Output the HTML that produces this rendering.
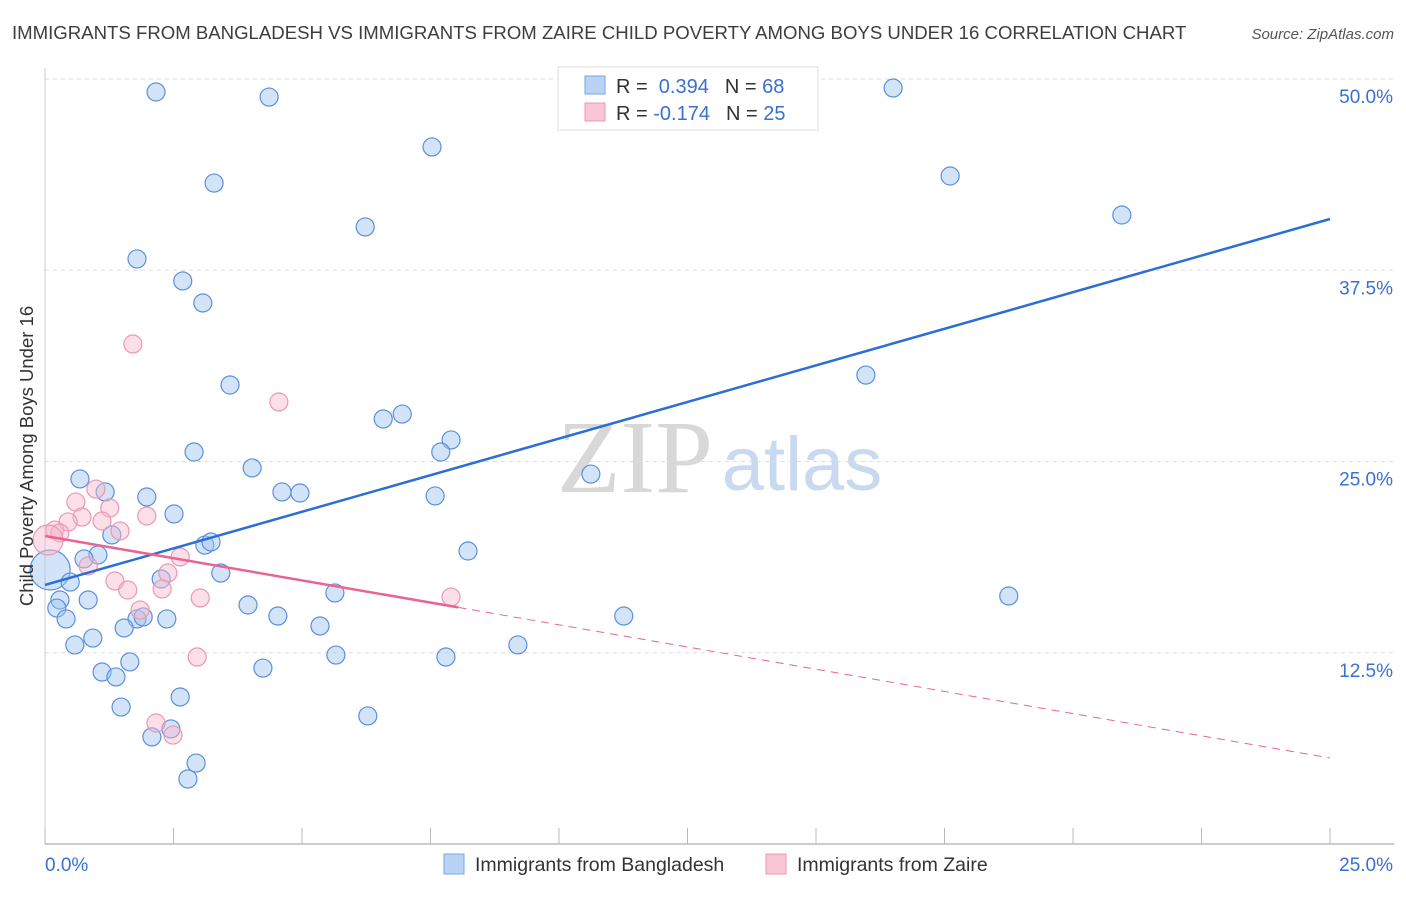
<!DOCTYPE html>
<html><head><meta charset="utf-8"><style>
body{margin:0;background:#fff;font-family:"Liberation Sans",sans-serif;}
</style></head><body>
<svg id="chart" width="1406" height="892" xmlns="http://www.w3.org/2000/svg">
<text x="12" y="39" font-size="18.6" fill="#3d3d3d">IMMIGRANTS FROM BANGLADESH VS IMMIGRANTS FROM ZAIRE CHILD POVERTY AMONG BOYS UNDER 16 CORRELATION CHART</text>
<text x="1394" y="39" font-size="15" fill="#555" font-style="italic" text-anchor="end">Source: ZipAtlas.com</text>
<text x="635" y="492" font-size="104" fill="#d8d8d8" font-family="Liberation Serif,serif" text-anchor="middle">ZIP</text>
<text x="802" y="490" font-size="76" fill="#c9d9ef" text-anchor="middle">atlas</text>
<g id="grid"></g>
<g id="axes"></g>
<g id="marks"></g>
<text transform="translate(33,456) rotate(-90)" font-size="18.5" fill="#333" text-anchor="middle">Child Poverty Among Boys Under 16</text>
<g>
<rect x="558" y="67" width="260" height="63" fill="#fff" stroke="#ddd"/>
<rect x="585" y="76" width="20" height="18" fill="#b9d3f5" stroke="#7aa6e3"/>
<rect x="585" y="103" width="20" height="18" fill="#f9c6d5" stroke="#eb98b1"/>
<text x="616" y="93" font-size="20" fill="#333">R = <tspan fill="#3a70d0">&#160;0.394</tspan><tspan dx="16">N = </tspan><tspan fill="#3a70d0">68</tspan></text>
<text x="616" y="120" font-size="20" fill="#333">R = <tspan fill="#3a70d0">-0.174</tspan><tspan dx="16">N = </tspan><tspan fill="#3a70d0">25</tspan></text>
</g>
<g>
<rect x="444" y="854" width="20" height="20" fill="#b9d3f5" stroke="#7aa6e3"/>
<text x="475" y="871" font-size="19.5" fill="#333">Immigrants from Bangladesh</text>
<rect x="766" y="854" width="20" height="20" fill="#f9c6d5" stroke="#eb98b1"/>
<text x="797" y="871" font-size="19.5" fill="#333">Immigrants from Zaire</text>
</g>
</svg>
<script>
const blueX=[2.16,4.36,16.50,7.53,3.29,17.61,6.23,20.95,1.79,2.68,3.07,3.60,15.97,6.58,6.95,7.90,7.70,2.90,4.03,10.62,0.68,1.17,1.98,4.61,4.96,7.59,2.51,1.30,3.11,3.23,1.03,0.76,8.23,0.10,0.49,2.26,3.42,0.29,0.84,3.95,5.64,18.75,0.23,1.79,1.91,2.37,4.53,5.35,11.26,0.41,1.54,0.93,0.58,9.20,1.65,5.66,7.80,1.11,1.38,4.24,2.63,1.48,6.28,2.08,2.45,2.94,2.78];
const blueY=[49.15,48.82,49.41,45.56,43.20,43.66,40.33,41.11,38.24,36.80,35.36,30.00,30.65,27.78,28.10,26.41,25.62,25.62,24.58,24.18,23.86,23.01,22.68,23.01,22.94,22.75,21.57,20.20,19.54,19.74,18.89,18.63,19.15,17.91,17.12,17.32,17.71,15.95,15.95,15.62,16.41,16.21,15.42,14.71,14.84,14.71,14.90,14.25,14.90,14.71,14.12,13.46,13.01,13.01,11.90,12.35,12.22,11.24,10.92,11.50,9.61,8.95,8.37,7.00,7.52,5.29,4.25];
const pinkX=[1.71,4.55,0.99,0.60,1.26,0.72,0.45,1.11,0.19,0.29,0.06,1.46,1.98,2.63,0.84,2.39,1.36,1.61,2.28,1.85,3.02,7.90,2.96,2.16,2.49];
const pinkY=[32.68,28.89,23.20,22.35,21.96,21.37,21.05,21.11,20.52,20.33,19.87,20.46,21.44,18.76,18.17,17.71,17.19,16.60,16.67,15.29,16.08,16.14,12.22,7.91,7.12];
const blueTrend=[16.93,40.85];
const pinkTrend=[20.13,5.62];
const pinkSolidEnd=8.04;
const yTicks=[12.5,25,37.5,50];
const yTickLabels=["12.5%","25.0%","37.5%","50.0%"];
const xTickCount=10;
const NS="http://www.w3.org/2000/svg";
const sx=v=>45+v*(1285/25), sy=v=>844-v*(765/50);
function mk(tag,attrs,parent){const e=document.createElementNS(NS,tag);for(const k in attrs)e.setAttribute(k,attrs[k]);document.getElementById(parent).appendChild(e);return e;}
yTicks.forEach((t,i)=>{
 const g=mk('line',{x1:45,x2:1394,y1:sy(t),y2:sy(t),stroke:'#ddd','stroke-dasharray':'4,4'},'grid');
 
 
 const l=mk('text',{x:1393,y:sy(t)+24,'font-size':19,fill:'#3a70d0','text-anchor':'end'},'axes');
 l.textContent=yTickLabels[i];
 
 
});
const xa=mk('line',{x1:45,x2:1394,y1:844,y2:844,stroke:'#bbb','stroke-width':1.5},'axes');


const ya=mk('line',{x1:45,x2:45,y1:68,y2:844,stroke:'#ccc'},'axes');


for(let i=0;i<=xTickCount;i++){
 const v=25*i/xTickCount;
 const t=mk('line',{x1:sx(v),x2:sx(v),y1:828,y2:844,stroke:'#bbb'},'axes');
 
 
}
const x0=mk('text',{x:45,y:871,'font-size':19,fill:'#3a70d0'},'axes');x0.textContent='0.0%';


const x1=mk('text',{x:1393,y:871,'font-size':19,fill:'#3a70d0','text-anchor':'end'},'axes');x1.textContent='25.0%';


blueX.forEach((x,i)=>{
 const c=mk('circle',{cx:sx(x),cy:sy(blueY[i]),r:(i===33?20:9),fill:'rgba(160,195,240,0.45)',stroke:'#5a90dd','stroke-width':1.2},'marks');
 
 
});
pinkX.forEach((x,i)=>{
 const c=mk('circle',{cx:sx(x),cy:sy(pinkY[i]),r:(i===10?15:9),fill:'rgba(248,185,205,0.45)',stroke:'#eb98b1','stroke-width':1.2},'marks');
 
 
});
const bt=mk('line',{x1:sx(0),y1:sy(blueTrend[0]),x2:sx(25),y2:sy(blueTrend[1]),stroke:'#2a6fd6','stroke-width':2.5},'marks');


const pAt=v=>pinkTrend[0]+(pinkTrend[1]-pinkTrend[0])*v/25;
const ps=mk('line',{x1:sx(0),y1:sy(pinkTrend[0]),x2:sx(pinkSolidEnd),y2:sy(pAt(pinkSolidEnd)),stroke:'#e8658f','stroke-width':2.5},'marks');


const pd=mk('line',{x1:sx(pinkSolidEnd),y1:sy(pAt(pinkSolidEnd)),x2:sx(25),y2:sy(pinkTrend[1]),stroke:'#e8658f','stroke-width':1,'stroke-dasharray':'8,6'},'marks');


</script>
</body></html>
